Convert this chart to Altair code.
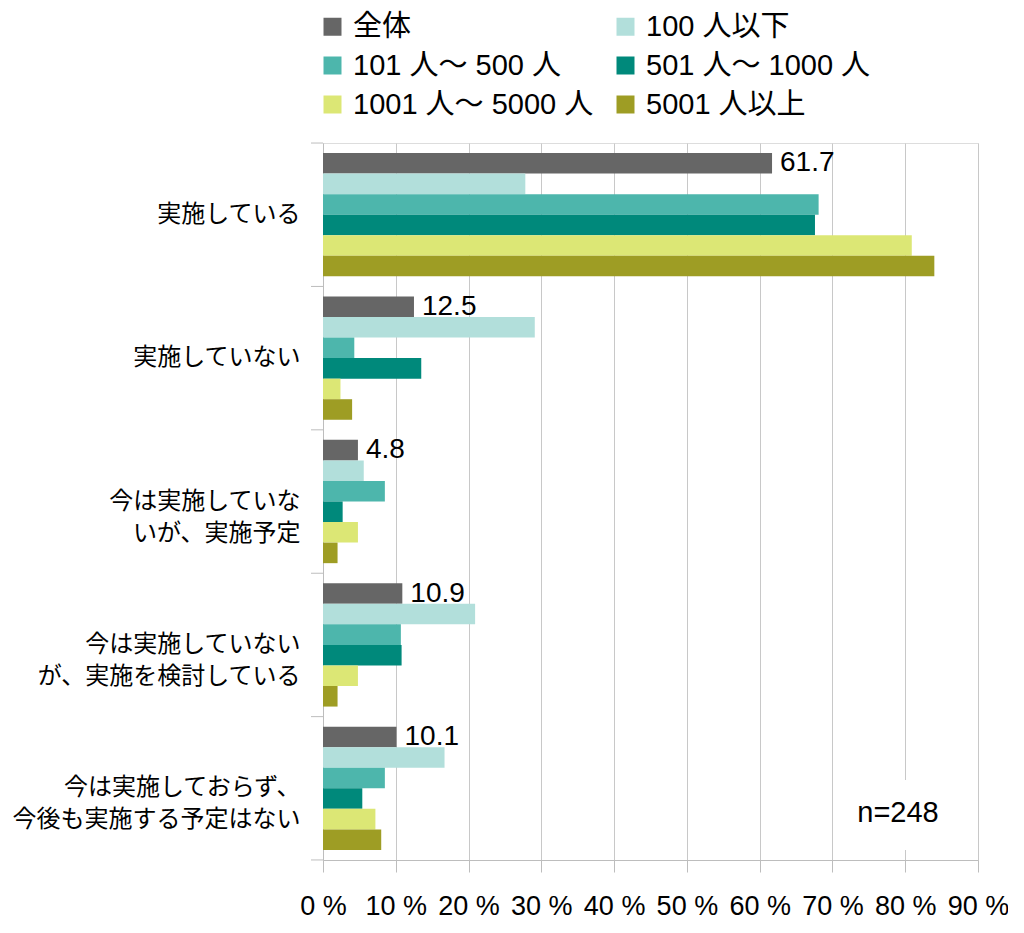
import altair as alt
import pandas as pd

categories = [
    "実施している",
    "実施していない",
    "今は実施していな\nいが、実施予定",
    "今は実施していない\nが、実施を検討している",
    "今は実施しておらず、\n今後も実施する予定はない",
]
series = ["全体", "100 人以下", "101 人〜 500 人", "501 人〜 1000 人", "1001 人〜 5000 人", "5001 人以上"]
colors = ["#666666", "#b2dfdb", "#4db6ac", "#00897b", "#dce775", "#9e9d24"]

total = [61.7, 12.5, 4.8, 10.9, 10.1]
upto_100 = [27.8, 29.1, 5.6, 20.9, 16.7]
from_101 = [68.1, 4.3, 8.5, 10.7, 8.5]
from_501 = [67.6, 13.5, 2.7, 10.8, 5.4]
from_1001 = [80.9, 2.4, 4.8, 4.8, 7.2]
over_5001 = [84.0, 4.0, 2.0, 2.0, 8.0]
x_ticks = [0, 10, 20, 30, 40, 50, 60, 70, 80, 90]
note = "n=248"

rows = []
for s, vals in zip(series, [total, upto_100, from_101, from_501, from_1001, over_5001]):
    for c, v in zip(categories, vals):
        rows.append({"category": c, "series": s, "value": v})
df = pd.DataFrame(rows)
cat_df = pd.DataFrame({"category": categories})

sans = "Liberation Sans Narrow, Liberation Sans, Arial"
jp = "Noto Sans CJK JP"
axis_grey = "#bdbdbd"

y_enc = alt.Y(
    "category:N",
    sort=categories,
    scale=alt.Scale(paddingInner=0.14, paddingOuter=0.07),
    axis=alt.Axis(
        title=None,
        labelExpr="split(datum.label, '\\n')",
        labelFont=jp,
        labelFontSize=24,
        labelColor="black",
        labelLineHeight=32,
        labelPadding=23,
        labelLimit=400,
        ticks=False,
        domainColor=axis_grey,
        grid=False,
    ),
)
yoff = alt.YOffset("series:N", sort=series, scale=alt.Scale(paddingInner=0, paddingOuter=0))

bars = alt.Chart(df).mark_bar().encode(
    x=alt.X(
        "value:Q",
        scale=alt.Scale(domain=[0, 90], nice=False),
        axis=alt.Axis(
            title=None,
            values=x_ticks,
            labelExpr="datum.value + ' %'",
            labelFont=sans,
            labelFontSize=27,
            labelColor="black",
            labelPadding=21,
            labelOverlap=False,
            labelFlush=False,
            tickSize=12,
            tickColor=axis_grey,
            domainColor=axis_grey,
            gridColor="#c8c8c8",
        ),
    ),
    y=y_enc,
    yOffset=yoff,
    color=alt.Color(
        "series:N",
        sort=series,
        scale=alt.Scale(domain=series, range=colors),
        legend=alt.Legend(
            title=None,
            orient="none",
            direction="horizontal",
            legendX=-5,
            legendY=-131,
            columns=2,
            columnPadding=17,
            rowPadding=9,
            symbolType="square",
            symbolSize=324,
            symbolStrokeWidth=0,
            symbolOpacity=1,
            labelFont="Liberation Sans, " + jp,
            labelFontSize=29,
            labelColor="black",
            labelOffset=6,
            labelLimit=400,
        ),
    ),
)

# category boundary ticks on the left axis (Excel style)
cat_ticks = alt.Chart(cat_df).mark_rule(color=axis_grey, yOffset=-10).encode(
    y=alt.Y("category:N", sort=categories, bandPosition=0),
    x=alt.value(-12),
    x2=alt.value(0),
)
end_tick = alt.Chart(cat_df.tail(1)).mark_rule(color=axis_grey, yOffset=10).encode(
    y=alt.Y("category:N", sort=categories, bandPosition=1),
    x=alt.value(-12),
    x2=alt.value(0),
)

labels = alt.Chart(df).transform_filter(
    alt.datum.series == "全体"
).mark_text(align="left", baseline="middle", dx=8, font=sans, fontSize=28, color="black").encode(
    x="value:Q",
    y=alt.Y("category:N", sort=categories),
    yOffset=alt.YOffset("series:N", sort=series),
    text=alt.Text("value:Q", format=".1f"),
)

note_df = pd.DataFrame({"note": [note]})
note_bg = alt.Chart(note_df).mark_rect(color="white").encode(
    x=alt.value(527), x2=alt.value(622), y=alt.value(637), y2=alt.value(707)
)
note_text = alt.Chart(note_df).mark_text(
    font=sans, fontSize=29, color="black", align="center", baseline="middle"
).encode(x=alt.value(575), y=alt.value(670), text="note:N")

chart = alt.layer(bars, cat_ticks, end_tick, note_bg, labels, note_text).properties(
    width=655,
    height=717,
    autosize=alt.AutoSizeParams(type="none"),
    padding={"left": 315, "top": 135, "right": 30, "bottom": 65},
).configure_view(stroke=axis_grey).configure(background="white")

chart.save("out.html", embed_options={"renderer": "svg", "actions": False})
